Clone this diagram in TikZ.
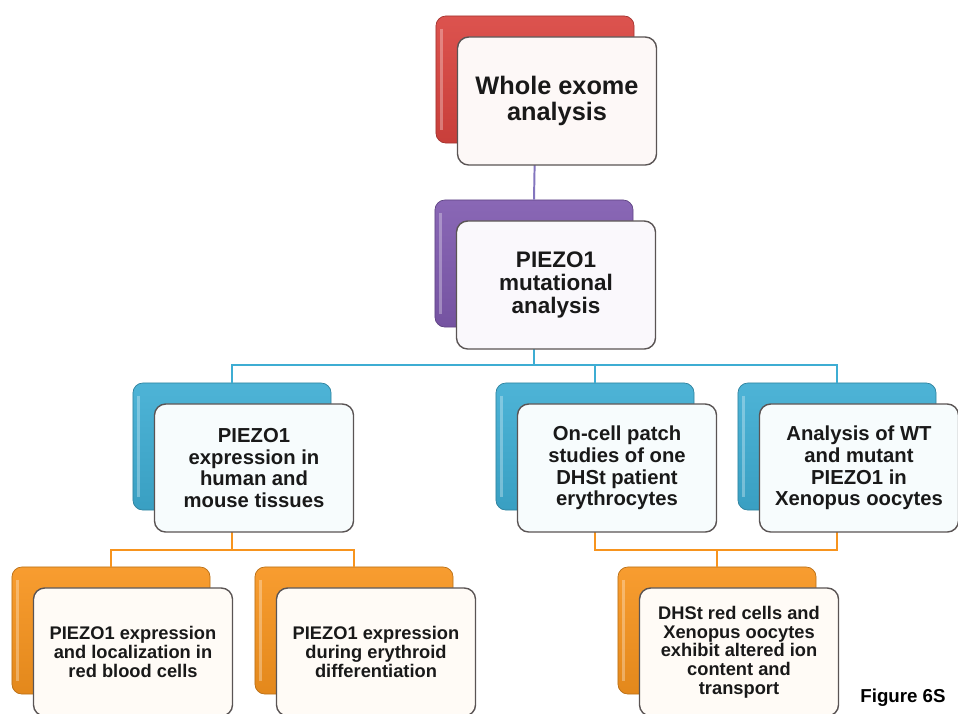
\documentclass[tikz,border=0pt]{standalone}
\usepackage{fontspec}
\setmainfont{Liberation Sans}

\definecolor{exomered}{HTML}{D9443F}
\definecolor{mutpurple}{HTML}{7F5AAF}
\definecolor{studyblue}{HTML}{3EADD3}
\definecolor{resorange}{HTML}{F7941E}
\definecolor{framegray}{HTML}{5A5454}
\definecolor{linkpurple}{HTML}{8375BE}

\begin{document}
\begin{tikzpicture}[x=0.025cm, y=-0.025cm,
    back/.style={rounded corners=7pt, minimum width=4.95cm, minimum height=3.175cm, inner sep=0pt,
        draw=#1!75!black, line width=0.5pt, top color=#1!92!white, bottom color=#1!92!black,
        path picture={\draw[white, opacity=0.3, line width=2pt]
            ([xshift=4pt,yshift=-9pt]path picture bounding box.north west) --
            ([xshift=4pt,yshift=9pt]path picture bounding box.south west);}},
    front/.style={rounded corners=8pt, minimum width=4.975cm, minimum height=3.2cm, inner sep=0pt,
        draw=framegray, line width=1pt, fill=#1!4!white, align=center, text=black!90},
    link/.style={line width=1.4pt, #1},
    lvlone/.style={font=\bfseries\fontsize{18pt}{18.5pt}\selectfont},
    lvltwo/.style={font=\bfseries\fontsize{16pt}{16.5pt}\selectfont},
    lvlthree/.style={font=\bfseries\fontsize{14.4pt}{15.4pt}\selectfont},
    lvlfour/.style={font=\bfseries\fontsize{13pt}{13.3pt}\selectfont}]

    \useasboundingbox (0,0) rectangle (958,713);

    % coloured back plates
    \node[back=exomered] (exomeback) at (535,79.5) {};
    \node[back=mutpurple] (mutback) at (534,263.5) {};
    \node[back=studyblue] (exprback) at (232,446.5) {};
    \node[back=studyblue] (patchback) at (595,446.5) {};
    \node[back=studyblue] (xenoback) at (837,446.5) {};
    \node[back=resorange] (rbcback) at (111,630.5) {};
    \node[back=resorange] (diffback) at (354,630.5) {};
    \node[back=resorange] (ionback) at (717,630.5) {};

    % connectors (drawn under the white cards)
    \draw[link=linkpurple] (exomeback.south) -- (mutback.north);
    \draw[link=studyblue] (mutback.south) -- (mutback.south |- 0,365);
    \draw[link=studyblue] (exprback.north) -- ++(0,-18) -| (xenoback.north);
    \draw[link=studyblue] (patchback.north) -- ++(0,-18);
    \draw[link=resorange] (exprback.south) -- ++(0,40);
    \draw[link=resorange] (rbcback.north) -- ++(0,-17) -| (diffback.north);
    \draw[link=resorange] (patchback.south) -- ++(0,40) -| (xenoback.south);
    \draw[link=resorange] (ionback.north) -- ++(0,-17);

    % white cards with the text
    \node[front=exomered, lvlone] (exome) at (557,101) {Whole exome\\analysis};
    \node[front=mutpurple, lvltwo] (mut) at (556,285) {PIEZO1\\mutational\\analysis};
    \node[front=studyblue, lvlthree] (expr) at (254,468) {PIEZO1\\expression in\\human and\\mouse tissues};
    \node[front=studyblue, lvlthree] (patch) at (617,468) {On-cell patch\\studies of one\\DHSt patient\\erythrocytes};
    \node[front=studyblue, lvlthree] (xeno) at (859,468) {Analysis of WT\\and mutant\\PIEZO1 in\\Xenopus oocytes};
    \node[front=resorange, lvlfour] (rbc) at (133,652) {PIEZO1 expression\\and localization in\\red blood cells};
    \node[front=resorange, lvlfour] (diff) at (376,652) {PIEZO1 expression\\during erythroid\\differentiation};
    \node[front=resorange, lvlfour] (ion) at (739,652) {DHSt red cells and\\Xenopus oocytes\\exhibit altered ion\\content and\\transport};

    \node[anchor=base, font=\bfseries\fontsize{13.3pt}{14pt}\selectfont] (figlabel) at (903,702) {Figure 6S};
\end{tikzpicture}
\end{document}
